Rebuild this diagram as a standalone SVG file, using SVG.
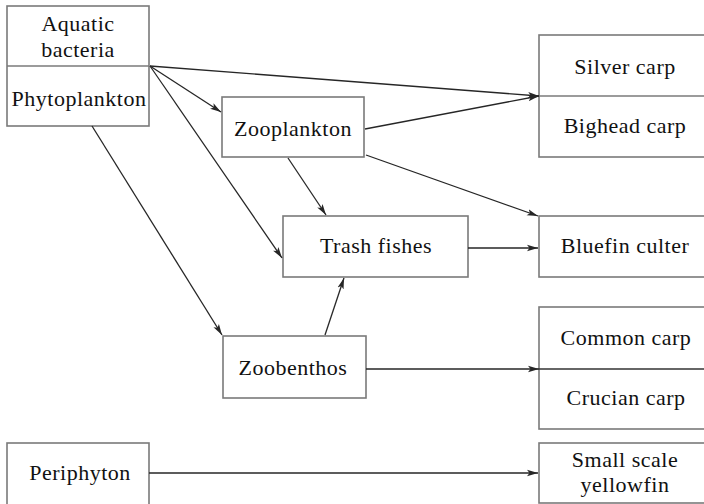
<svg xmlns="http://www.w3.org/2000/svg" width="704" height="504" viewBox="0 0 704 504">
  <style>
    .box { fill: #fff; stroke: #7a7a7a; stroke-width: 1.6; }
    .div { stroke: #7a7a7a; stroke-width: 1.6; }
    .lbl { font-family: "Liberation Serif", "Times New Roman", serif; font-size: 22px; letter-spacing: 0.5px; fill: #111; text-anchor: middle; }
    .edge { stroke: #262626; stroke-width: 1.3; fill: none; marker-end: url(#arrow); }
  </style>
  <defs>
    <marker id="arrow" markerUnits="userSpaceOnUse" markerWidth="12" markerHeight="8" refX="11" refY="4" orient="auto">
      <path d="M0,0.8 L11,4 L0,7.2 L2.5,4 Z" fill="#262626"/>
    </marker>
  </defs>

  <g id="bacteria-phytoplankton">
    <rect class="box" x="7" y="6" width="142" height="120"/>
    <line class="div" x1="7" y1="66" x2="149" y2="66"/>
    <text class="lbl" x="78" y="31">Aquatic</text>
    <text class="lbl" x="78" y="57">bacteria</text>
    <text class="lbl" x="79" y="106">Phytoplankton</text>
  </g>

  <g id="zooplankton">
    <rect class="box" x="222" y="97" width="142" height="60"/>
    <text class="lbl" x="293" y="136">Zooplankton</text>
  </g>

  <g id="silver-bighead">
    <rect class="box" x="539" y="35" width="172" height="122"/>
    <line class="div" x1="539" y1="96" x2="711" y2="96"/>
    <text class="lbl" x="625" y="74">Silver carp</text>
    <text class="lbl" x="625" y="133">Bighead carp</text>
  </g>

  <g id="trash-fishes">
    <rect class="box" x="283" y="216" width="185" height="61"/>
    <text class="lbl" x="376" y="253">Trash fishes</text>
  </g>

  <g id="bluefin-culter">
    <rect class="box" x="539" y="216" width="172" height="61"/>
    <text class="lbl" x="625" y="253">Bluefin culter</text>
  </g>

  <g id="zoobenthos">
    <rect class="box" x="223" y="336" width="143" height="62"/>
    <text class="lbl" x="293" y="375">Zoobenthos</text>
  </g>

  <g id="common-crucian">
    <rect class="box" x="539" y="307" width="172" height="122"/>
    <line class="div" x1="539" y1="369" x2="711" y2="369" style="stroke:#333"/>
    <text class="lbl" x="626" y="345">Common carp</text>
    <text class="lbl" x="626" y="405">Crucian carp</text>
  </g>

  <g id="periphyton">
    <rect class="box" x="7" y="443" width="142" height="65"/>
    <text class="lbl" x="80" y="480">Periphyton</text>
  </g>

  <g id="small-scale-yellowfin">
    <rect class="box" x="539" y="443" width="172" height="60"/>
    <text class="lbl" x="625" y="467">Small scale</text>
    <text class="lbl" x="625" y="492">yellowfin</text>
  </g>

  <g id="connectors">
    <line class="edge" x1="150" y1="66" x2="539" y2="96"/>
    <line class="edge" x1="150" y1="66" x2="221" y2="112"/>
    <line class="edge" x1="150" y1="66" x2="282" y2="258"/>
    <line class="edge" x1="92" y1="126" x2="222" y2="335"/>
    <line class="edge" x1="288" y1="158" x2="326" y2="215"/>
    <line class="edge" x1="365" y1="129" x2="539" y2="96"/>
    <line class="edge" x1="366" y1="155" x2="538" y2="216"/>
    <line class="edge" x1="468" y1="248" x2="538" y2="248"/>
    <line class="edge" x1="325" y1="335" x2="344" y2="278"/>
    <line class="edge" x1="366" y1="369" x2="539" y2="369"/>
    <line class="edge" x1="149" y1="473" x2="538" y2="473"/>
  </g>
</svg>
